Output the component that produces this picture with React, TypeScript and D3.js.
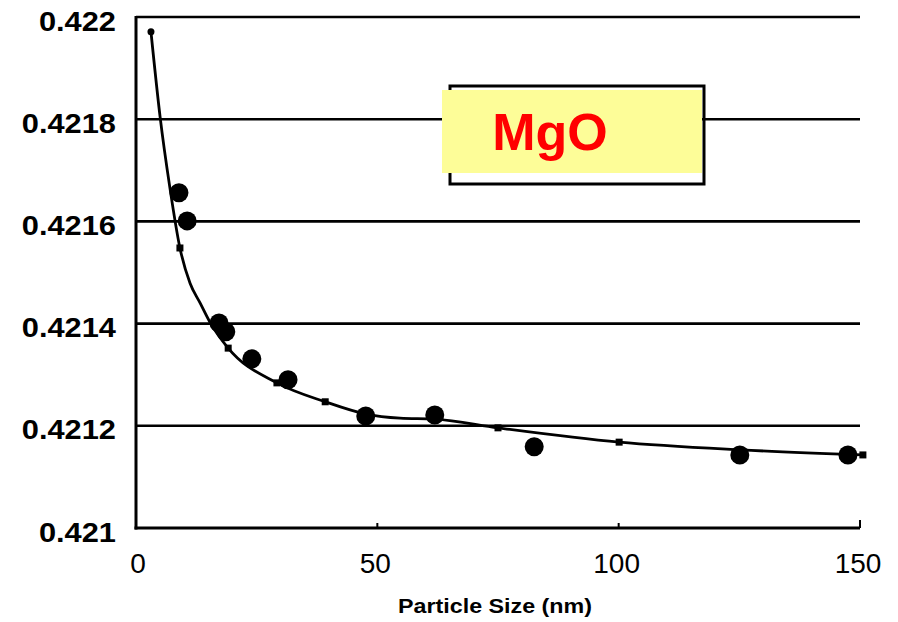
import React from 'react';
import * as d3 from 'd3';

// measured points (big dots)
const dotX = [8.9, 10.6, 17.2, 18.6, 24.0, 31.5, 47.6, 61.9, 82.5, 125.1, 147.5];
const dotY = [0.421656, 0.421601, 0.421401, 0.421384, 0.421331, 0.42129, 0.421219, 0.421221, 0.421159, 0.421143, 0.421143];

// fitted curve; mark = small square on the line
const curveX = [3.1, 5.0, 7.0, 9.1, 11.2, 13.3, 15.3, 19.1, 29.2, 39.2, 47.6, 54.7, 61.9, 75.0, 100.1, 125.1, 150.6];
const curveY = [0.421971, 0.421804, 0.421667, 0.421548, 0.421479, 0.42144, 0.421403, 0.421352, 0.421284, 0.421247, 0.421223, 0.421215, 0.421213, 0.421196, 0.421168, 0.421153, 0.421143];
const curveMark = [1, 0, 0, 1, 0, 0, 0, 1, 1, 1, 0, 0, 0, 1, 1, 0, 1];

const yTicks = [0.421, 0.4212, 0.4214, 0.4216, 0.4218, 0.422];
const yTickLabels = ['0.421', '0.4212', '0.4214', '0.4216', '0.4218', '0.422'];
const xTicks = [0, 50, 100, 150];

const font = '"Liberation Sans", Arial, sans-serif';

export default function App() {
  const x = d3.scaleLinear().domain([0, 150]).range([136, 860]);
  const y = d3.scaleLinear().domain([0.421, 0.422]).range([528, 17]);

  const curve = curveX.map((v, i) => ({ x: v, y: curveY[i], m: curveMark[i] }));
  const line = d3.line<{ x: number; y: number }>()
    .x(d => x(d.x))
    .y(d => y(d.y))
    .curve(d3.curveMonotoneX);

  return (
    <svg width={898} height={622} style={{ position: 'absolute', left: 0, top: 0, background: '#fff' }}>
      {/* grid lines */}
      {yTicks.slice(1).map(t => (
        <line key={t} x1={x(0)} x2={x(150)} y1={y(t)} y2={y(t)} stroke="#000" strokeWidth={2.6} />
      ))}

      {/* axes */}
      <line x1={x(0)} x2={x(0)} y1={y(0.422) - 1} y2={y(0.421) + 1.5} stroke="#000" strokeWidth={3} />
      <line x1={x(0) - 1.5} x2={x(150)} y1={y(0.421)} y2={y(0.421)} stroke="#000" strokeWidth={3} />
      {xTicks.slice(1).map(t => (
        <line key={t} x1={x(t)} x2={x(t)} y1={y(0.421)} y2={y(0.421) - (t === 150 ? 8 : 5)} stroke="#000" strokeWidth={2} />
      ))}

      {/* y tick labels */}
      {yTicks.map((t, i) => (
        <text key={t} transform={`translate(116,${y(t) + 13.5}) scale(1.1,1)`} textAnchor="end"
          fontFamily={font} fontWeight="bold" fontSize={28} fill="#000">{yTickLabels[i]}</text>
      ))}

      {/* x tick labels */}
      {xTicks.map(t => (
        <text key={t} x={x(t) + (t === 0 ? 2 : -2)} y={573} textAnchor="middle" fontFamily={font}
          fontSize={28} fill="#000">{t}</text>
      ))}
      <text x={398} y={613} textLength={194} lengthAdjust="spacingAndGlyphs" fontFamily={font}
        fontWeight="bold" fontSize={21} fill="#000">
        Particle Size (nm)
      </text>

      {/* legend box */}
      <rect x={450} y={86} width={254} height={98} fill="none" stroke="#000" strokeWidth={3} />
      <rect x={442} y={90} width={260} height={83} fill="#fdfd98" />
      <text x={550} y={150} textAnchor="middle" fontFamily={font} fontWeight="bold" fontSize={52} fill="#ff0000">
        MgO
      </text>

      {/* fitted curve */}
      <path d={line(curve) || ''} fill="none" stroke="#000" strokeWidth={2.8} />
      {curve.filter(d => d.m).map((d, i) => (
        i === 0
          ? <circle key={i} cx={x(d.x)} cy={y(d.y)} r={3.5} fill="#000" />
          : <rect key={i} x={x(d.x) - 3.5} y={y(d.y) - 3.5} width={7} height={7} fill="#000" />
      ))}

      {/* data points */}
      {dotX.map((v, i) => (
        <circle key={i} cx={x(v)} cy={y(dotY[i])} r={9.5} fill="#000" />
      ))}
    </svg>
  );
}
